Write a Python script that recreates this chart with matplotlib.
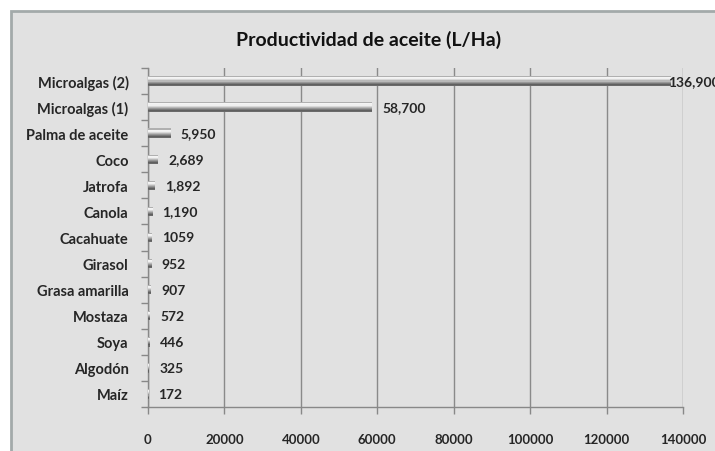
import matplotlib.pyplot as plt
from matplotlib.patches import Rectangle
from matplotlib.ticker import FixedLocator

cultivos = ["Microalgas (2)", "Microalgas (1)", "Palma de aceite", "Coco", "Jatrofa",
            "Canola", "Cacahuate", "Girasol", "Grasa amarilla", "Mostaza",
            "Soya", "Algodón", "Maíz"]
litros_ha = [136900, 58700, 5950, 2689, 1892, 1190, 1059, 952, 907, 572, 446, 325, 172]
etiquetas = ["136,900", "58,700", "5,950", "2,689", "1,892", "1,190", "1059",
             "952", "907", "572", "446", "325", "172"]
x_ticks = [0, 20000, 40000, 60000, 80000, 100000, 120000, 140000]

plt.rcParams['font.family'] = ['Lato', 'DejaVu Sans']

fig = plt.figure(figsize=(7.15, 4.52), dpi=100)
fig.patch.set_facecolor('white')
fondo = Rectangle((11 / 715, -0.01), 1.0, 1 - 12 / 452 + 0.01,
                  transform=fig.transFigure, facecolor='#e1e1e1',
                  edgecolor='#a3aaaa', linewidth=2, zorder=-10)
fig.patches.append(fondo)

ax = fig.add_axes([148 / 715, 1 - 408 / 452, 535 / 715, (408 - 69) / 452])
ax.set_facecolor('none')
ax.set_zorder(1)

ypos = list(range(len(cultivos)))[::-1]

# fake cylinder shading: stacked thin stripes, light on top, dark at bottom
stripes = ['#b0b0b0', '#f4f4f4', '#f0f0f0', '#d8d8d8', '#b8b8b8',
           '#989898', '#7a7a7a', '#606060', '#6a6a6a']
h_total = 0.36
h = h_total / len(stripes)
for k, c in enumerate(stripes):
    off = h_total / 2 - h / 2 - k * h
    ax.barh([y + off for y in ypos], litros_ha, height=h * 1.05, color=c,
            linewidth=0, zorder=3)

for y, v, t in zip(ypos, litros_ha, etiquetas):
    # excel pulls the label back when it would run off the chart
    ax.text(min(v + 2600, 136000), y, t, va='center', ha='left', fontsize=10,
            fontweight='bold', color='#262626', zorder=4, clip_on=False)

ax.set_xlim(0, 140000)
ax.set_ylim(-0.5, len(cultivos) - 0.5)
ax.set_xticks(x_ticks)
ax.set_xticklabels([str(v) for v in x_ticks], fontsize=9.5, fontweight='bold', color='#262626')
ax.set_yticks(ypos)
ax.set_yticklabels(cultivos, fontsize=10.5, fontweight='bold', color='#262626')
ax.yaxis.set_minor_locator(FixedLocator([i - 0.5 for i in range(len(cultivos) + 1)]))
ax.tick_params(axis='y', which='major', length=0, pad=14)
ax.tick_params(axis='y', which='minor', length=5, color='#888888', width=1)
ax.tick_params(axis='x', length=5, color='#888888', width=1, pad=14)

ax.grid(axis='x', color='#8a8a8a', linewidth=1, zorder=1)
ax.set_axisbelow(True)
for s in ['top', 'right']:
    ax.spines[s].set_visible(False)
for s in ['left', 'bottom']:
    ax.spines[s].set_color('#888888')
    ax.spines[s].set_linewidth(1)

fig.text(369 / 715, 1 - 40 / 452, "Productividad de aceite (L/Ha)", ha='center', va='center',
         fontsize=14, fontweight='bold', color='#111111')

plt.savefig("out.png", dpi=100)
